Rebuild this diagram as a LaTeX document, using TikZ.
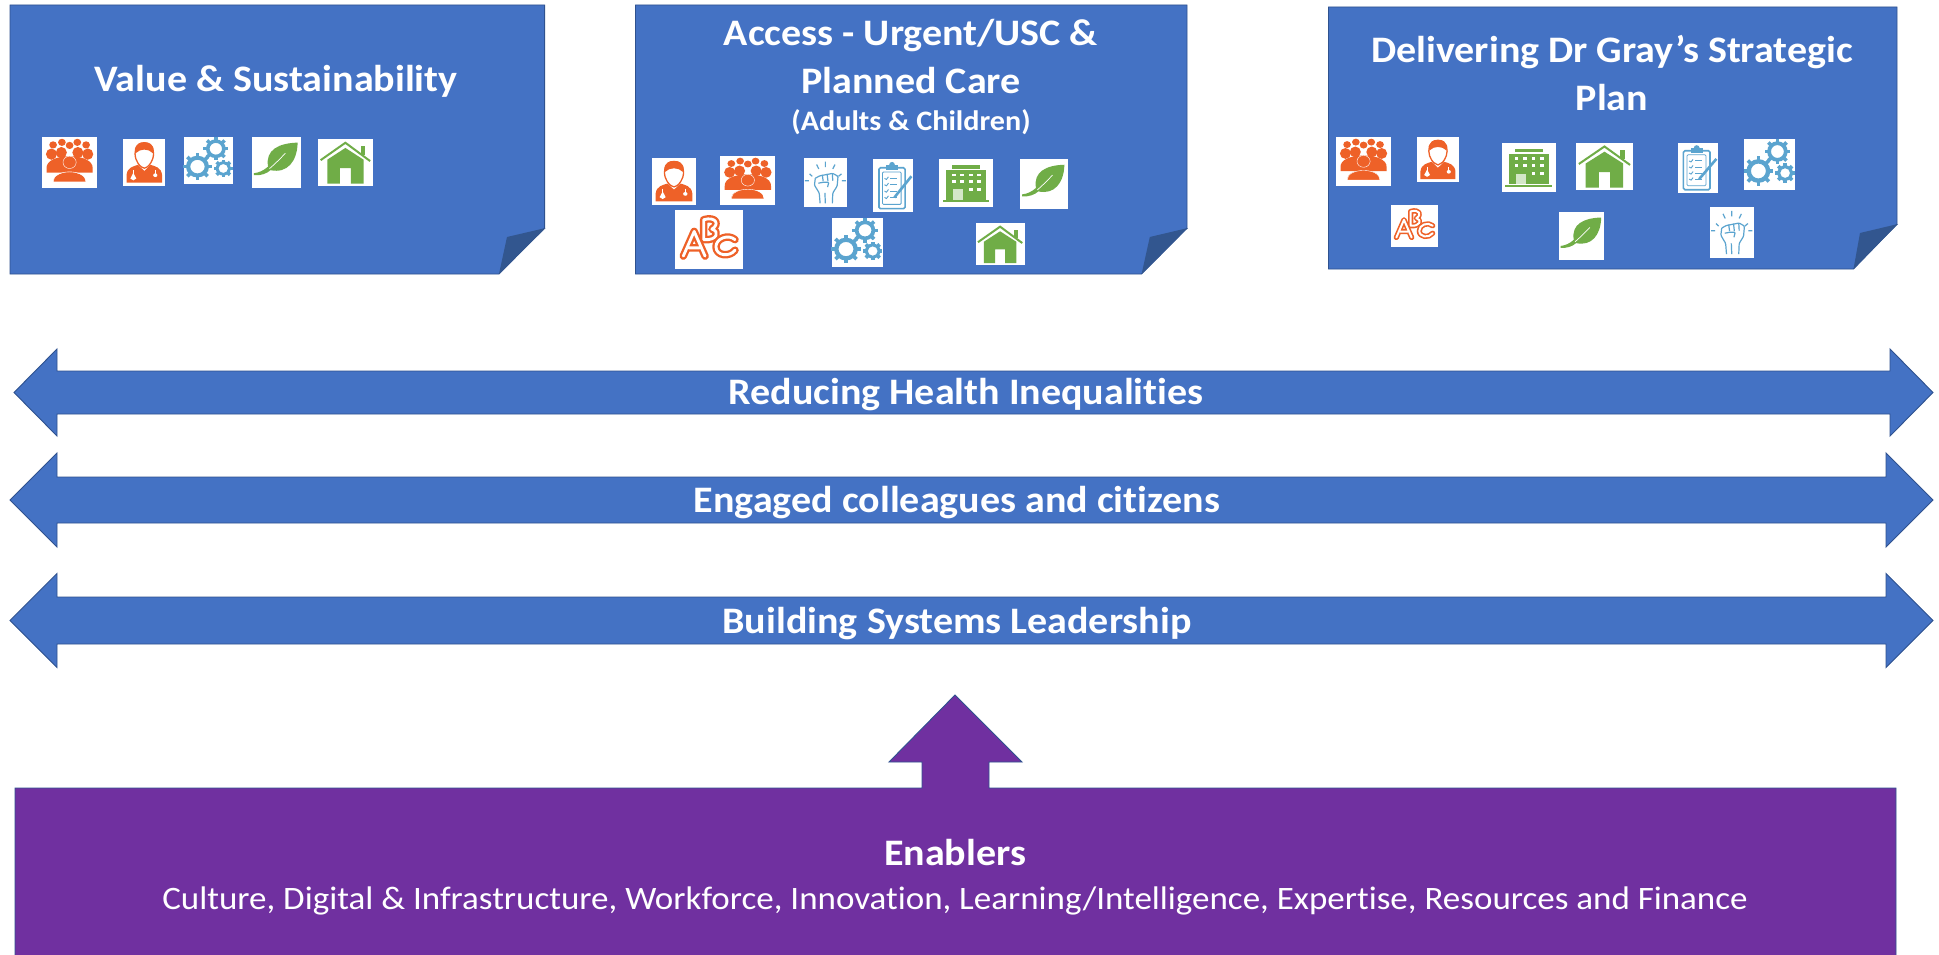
\documentclass[tikz,border=0pt]{standalone}
\usepackage{fontspec}
\setmainfont[Ligatures=NoCommon,FakeStretch=1.07]{Carlito}
\definecolor{cardblue}{HTML}{4472C4}
\definecolor{edgeblue}{HTML}{2F528F}
\definecolor{foldblue}{HTML}{32568F}
\definecolor{enablerpurple}{HTML}{7030A0}
\definecolor{icorange}{HTML}{EE6128}
\definecolor{icgreen}{HTML}{70AD47}
\definecolor{icblue}{HTML}{5BA4CF}
\tikzset{
  x=1pt,y=-1pt,
  blueshape/.style={fill=cardblue,draw=edgeblue,line width=0.9pt,line join=miter},
  foldshape/.style={fill=foldblue,draw=none},
  purpleshape/.style={fill=enablerpurple,draw=edgeblue,line width=0.9pt,line join=miter},
  headlabel/.style={text=white,font=\bfseries\fontsize{37.4}{42}\selectfont,anchor=base,inner sep=0pt},
  sublabel/.style={text=white,font=\bfseries\fontsize{28.2}{32}\selectfont,anchor=base,inner sep=0pt},
  arrowlabel/.style={text=white,font=\bfseries\fontsize{37.4}{42}\selectfont,anchor=base,inner sep=0pt},
  bodylabel/.style={text=white,font=\fontsize{32.7}{38}\selectfont,anchor=base,inner sep=0pt},
}
% card: x0 y0 x1 y1 foldx foldy innerx innery
\newcommand{\cardshape}[8]{%
  \draw[blueshape] (#1,#2) -- (#3,#2) -- (#3,#6) -- (#5,#4) -- (#1,#4) -- cycle;
  \fill[foldshape] (#5,#4) -- (#7,#8) -- (#3+1,#6) -- cycle;
}
% double arrow: left tip, left base, right base, right tip, centre y, head half, shaft half
\newcommand{\twoway}[7]{%
  \draw[blueshape] (#1,#5) -- (#2,#5-#6) -- (#2,#5-#7) -- (#3,#5-#7) -- (#3,#5-#6) -- (#4,#5)
    -- (#3,#5+#6) -- (#3,#5+#7) -- (#2,#5+#7) -- (#2,#5+#6) -- cycle;
}
\newcommand{\gearwheel}[3]{%
  \foreach \ang in {0,45,...,315}{
    \draw[icblue,line width=\gearlw pt] ({#1+0.62*#3*cos(\ang)},{#2+0.62*#3*sin(\ang)}) -- ({#1+1.0*#3*cos(\ang)},{#2+1.0*#3*sin(\ang)});
  }
  \fill[icblue,even odd rule] (#1,#2) ellipse [x radius=0.8*#3,y radius=0.8*#3] (#1,#2) ellipse [x radius=0.5*#3,y radius=0.5*#3];
}
\newcommand{\iconpeople}{%
  \foreach \a/\b in {.2/.16,.36/.11,.5/.17,.64/.11,.8/.16}{\fill[icorange] (\a,\b) ellipse [x radius=.07,y radius=.07];}
  \fill[icorange] (.08,.62) .. controls (.06,.3) and (.94,.3) .. (.92,.62) -- (.92,.7) -- (.08,.7) -- cycle;
  \foreach \a/\b in {.17/.34,.35/.31,.65/.31,.83/.34}{\fill[icorange] (\a,\b) ellipse [x radius=.1,y radius=.11];}
  \fill[icorange,draw=white,line width=.4pt] (.2,.88) .. controls (.2,.62) and (.8,.62) .. (.8,.88) -- cycle;
  \fill[icorange,draw=white,line width=.4pt] (.5,.5) ellipse [x radius=.12,y radius=.12];
}
\newcommand{\icondoctor}{%
  \fill[icorange] (.08,.93) -- (.08,.76) .. controls (.1,.6) and (.25,.58) .. (.35,.55) -- (.5,.68) -- (.65,.55) .. controls (.75,.58) and (.9,.6) .. (.92,.76) -- (.92,.93) -- cycle;
  \draw[icorange,line width=1.3pt,fill=white] (.5,.08) .. controls (.26,.08) and (.26,.3) .. (.3,.42) .. controls (.36,.56) and (.42,.6) .. (.5,.62) .. controls (.58,.6) and (.64,.56) .. (.7,.42) .. controls (.74,.3) and (.74,.08) .. (.5,.08) -- cycle;
  \fill[icorange] (.5,.07) .. controls (.26,.07) and (.27,.27) .. (.3,.3) .. controls (.4,.2) and (.6,.2) .. (.7,.3) .. controls (.73,.27) and (.74,.07) .. (.5,.07) -- cycle;
  \draw[white,line width=.7pt] (.24,.66) -- (.24,.76) (.76,.66) -- (.76,.76);
  \fill[white] (.24,.72) -- (.31,.84) -- (.24,.88) -- (.17,.84) -- cycle;
  \fill[white] (.76,.77) ellipse [x radius=.05,y radius=.04];
}
\newcommand{\icongears}{%
  \pgfmathsetmacro\gearlw{\icw*.07}%
  \gearwheel{.65}{.25}{.25}
  \gearwheel{.28}{.63}{.29}
  \gearwheel{.8}{.67}{.19}
}
\newcommand{\iconleaf}{%
  \fill[icgreen] (.93,.11) .. controls (.55,.12) and (.27,.25) .. (.33,.58) .. controls (.24,.66) and (.14,.7) .. (.04,.71) -- (.04,.75) .. controls (.18,.76) and (.3,.72) .. (.38,.65) .. controls (.72,.72) and (.92,.48) .. (.93,.11) -- cycle;
  \draw[white,line width=.7pt] (.36,.62) .. controls (.48,.52) and (.58,.42) .. (.68,.32);
}
\newcommand{\iconhouse}{%
  \fill[icgreen] (.17,.44) -- (.5,.19) -- (.83,.44) -- (.83,.95) -- (.6,.95) -- (.6,.62) -- (.4,.62) -- (.4,.95) -- (.17,.95) -- cycle;
  \draw[icgreen,line width=2pt] (.05,.45) -- (.5,.08) -- (.95,.47);
  \fill[icgreen] (.78,.15) rectangle (.86,.34);
}
\newcommand{\iconbuilding}{%
  \fill[icgreen] (.24,.13) rectangle (.76,.2);
  \fill[icgreen] (.13,.23) rectangle (.87,.85);
  \fill[icgreen] (.06,.86) rectangle (.94,.9);
  \foreach \a in {.27,.43,.59,.74}{\foreach \b in {.33,.47}{\fill[white] (\a-.035,\b-.03) rectangle (\a+.035,\b+.03);}}
  \foreach \a in {.59,.74}{\fill[white] (\a-.035,.63-.03) rectangle (\a+.035,.63+.03);}
  \fill[white!70!icgreen] (.26,.63) rectangle (.44,.85);
}
\newcommand{\iconclipboard}{%
  \draw[icblue,line width=1.6pt,rounded corners=1.5pt] (.14,.16) rectangle (.8,.93);
  \draw[icblue,line width=.8pt,rounded corners=1pt] (.23,.24) rectangle (.7,.85);
  \fill[icblue] (.33,.1) rectangle (.62,.2);
  \fill[icblue] (.47,.1) ellipse [x radius=.07,y radius=.05];
  \foreach \b in {.36,.48,.6,.72}{
    \draw[icblue,line width=.9pt] (.28,\b) -- (.33,\b+.02) -- (.38,\b-.03);
    \draw[icblue,line width=.9pt] (.43,\b) -- (.6,\b);
  }
  \draw[icblue,line width=2.6pt] (.53,.72) -- (.96,.32);
}
\newcommand{\iconfist}{%
  \begin{scope}[icblue,line width=1.2pt,rounded corners=1pt]
    \draw (.27,.42) -- (.37,.37) -- (.67,.32) -- (.79,.38) -- (.77,.58) -- (.67,.72) -- (.66,.93);
    \draw (.43,.35) -- (.45,.48) (.54,.33) -- (.56,.48) (.66,.32) -- (.67,.47);
    \draw (.27,.42) -- (.25,.56) -- (.36,.72) -- (.38,.93);
    \draw (.34,.52) -- (.46,.5) -- (.58,.5) -- (.55,.6);
    \draw (.49,.72) -- (.5,.93);
    \draw (.14,.33) -- (.2,.38) (.03,.47) -- (.12,.47) (.3,.14) -- (.35,.23) (.5,.08) -- (.5,.19) (.72,.14) -- (.67,.23) (.87,.33) -- (.8,.38) (.97,.47) -- (.88,.47);
  \end{scope}
}
\newcommand{\lettershape}[1]{%
  \draw[icorange,line width=\abclw pt,line cap=round,line join=round] #1;
  \draw[white,line width=.38*\abclw pt,line cap=round,line join=round] #1;
}
\newcommand{\iconabc}{%
  \pgfmathsetmacro\abclw{\icw*.11}%
  \lettershape{(.42,.16) -- (.42,.5) (.42,.16) .. controls (.6,.1) and (.66,.24) .. (.54,.32) .. controls (.66,.36) and (.62,.52) .. (.42,.5)}
  \lettershape{(.12,.78) -- (.28,.36) -- (.44,.78) (.2,.64) -- (.36,.64)}
  \lettershape{(.88,.5) .. controls (.78,.4) and (.6,.48) .. (.6,.62) .. controls (.6,.78) and (.8,.8) .. (.88,.68)}
}
% icon frame: name x0 y0 x1 y1
\newcommand{\iconbox}[5]{%
  \pgfmathsetmacro\icw{#4-#2}\pgfmathsetmacro\ich{#5-#3}%
  \fill[white] (#2,#3) rectangle (#4,#5);
  \begin{scope}[shift={(#2,#3)},x=\icw pt,y=-\ich pt]
    \csname icon#1\endcsname
  \end{scope}
}
\begin{document}
\begin{tikzpicture}
\useasboundingbox (0,0) rectangle (1939,955);
\fill[white] (0,0) rectangle (1939,955);

% cards
\cardshape{10}{5}{544.6}{274}{499}{228}{507}{237}
\cardshape{635.5}{5}{1187}{274}{1141.6}{228}{1149.8}{237}
\cardshape{1328.5}{7}{1897}{269}{1853.5}{224}{1860}{233}

\node[headlabel] (value) at (276,92) {Value \& Sustainability};
\node[headlabel] (access) at (911,46) {Access - Urgent/USC \&};
\node[headlabel] (planned) at (911,94) {Planned Care};
\node[sublabel] (adults) at (911,131) {(Adults \& Children)};
\node[headlabel] (delivering) at (1612,63) {Delivering Dr Gray’s Strategic};
\node[headlabel] (plan) at (1612,111) {Plan};

% card 1 icons
\iconbox{people}{42.1}{136.7}{97.1}{188}
\iconbox{doctor}{123.2}{139}{165.4}{186}
\iconbox{gears}{183.6}{137}{233.2}{184}
\iconbox{leaf}{251.8}{137}{301.1}{188}
\iconbox{house}{317.9}{139}{372.9}{186}
% card 2 icons
\iconbox{doctor}{652.2}{157.7}{695.8}{204.7}
\iconbox{people}{720.3}{155.7}{775.4}{204.7}
\iconbox{fist}{803.5}{157.7}{847.2}{206.7}
\iconbox{clipboard}{873.4}{159.3}{913}{212.3}
\iconbox{building}{939.3}{159.3}{992.6}{206.7}
\iconbox{leaf}{1020.3}{159.3}{1067.7}{208.7}
\iconbox{abc}{675.1}{210.3}{743.2}{269}
\iconbox{gears}{831.6}{218}{883}{267.3}
\iconbox{house}{975.5}{223.3}{1024.7}{265.3}
% card 3 icons
\iconbox{people}{1336.1}{136.7}{1391}{186}
\iconbox{doctor}{1417.1}{136.7}{1458.8}{182.3}
\iconbox{building}{1502.1}{142.7}{1555.5}{191.7}
\iconbox{house}{1576}{142.7}{1632.9}{190}
\iconbox{clipboard}{1677.8}{142.7}{1718}{193.3}
\iconbox{gears}{1744}{138.7}{1795.4}{190}
\iconbox{abc}{1390.6}{204.7}{1438.4}{246.7}
\iconbox{leaf}{1558.7}{212.3}{1604.4}{259.7}
\iconbox{fist}{1709.9}{206.7}{1753.6}{257.7}

% two-way arrows
\twoway{14}{57}{1890}{1933}{392.5}{43.5}{21.5}
\twoway{10}{57}{1886}{1933}{500}{47}{23}
\twoway{10}{57}{1886}{1933}{620.5}{47}{23.5}
\node[arrowlabel] (reducing) at (966,404.5) {Reducing Health Inequalities};
\node[arrowlabel] (engaged) at (957,512) {Engaged colleagues and citizens};
\node[arrowlabel] (building) at (957,633) {Building Systems Leadership};

% enablers block
\draw[purpleshape] (15,788) -- (922,788) -- (922,762) -- (889,762) -- (955,695) -- (1022,762) -- (989,762) -- (989,788) -- (1896,788) -- (1896,958) -- (15,958) -- cycle;
\node[arrowlabel] (enablers) at (955,865.5) {Enablers};
\node[bodylabel] (list) at (955,909) {Culture, Digital \& Infrastructure, Workforce, Innovation, Learning/Intelligence, Expertise, Resources and Finance};
\end{tikzpicture}
\end{document}
